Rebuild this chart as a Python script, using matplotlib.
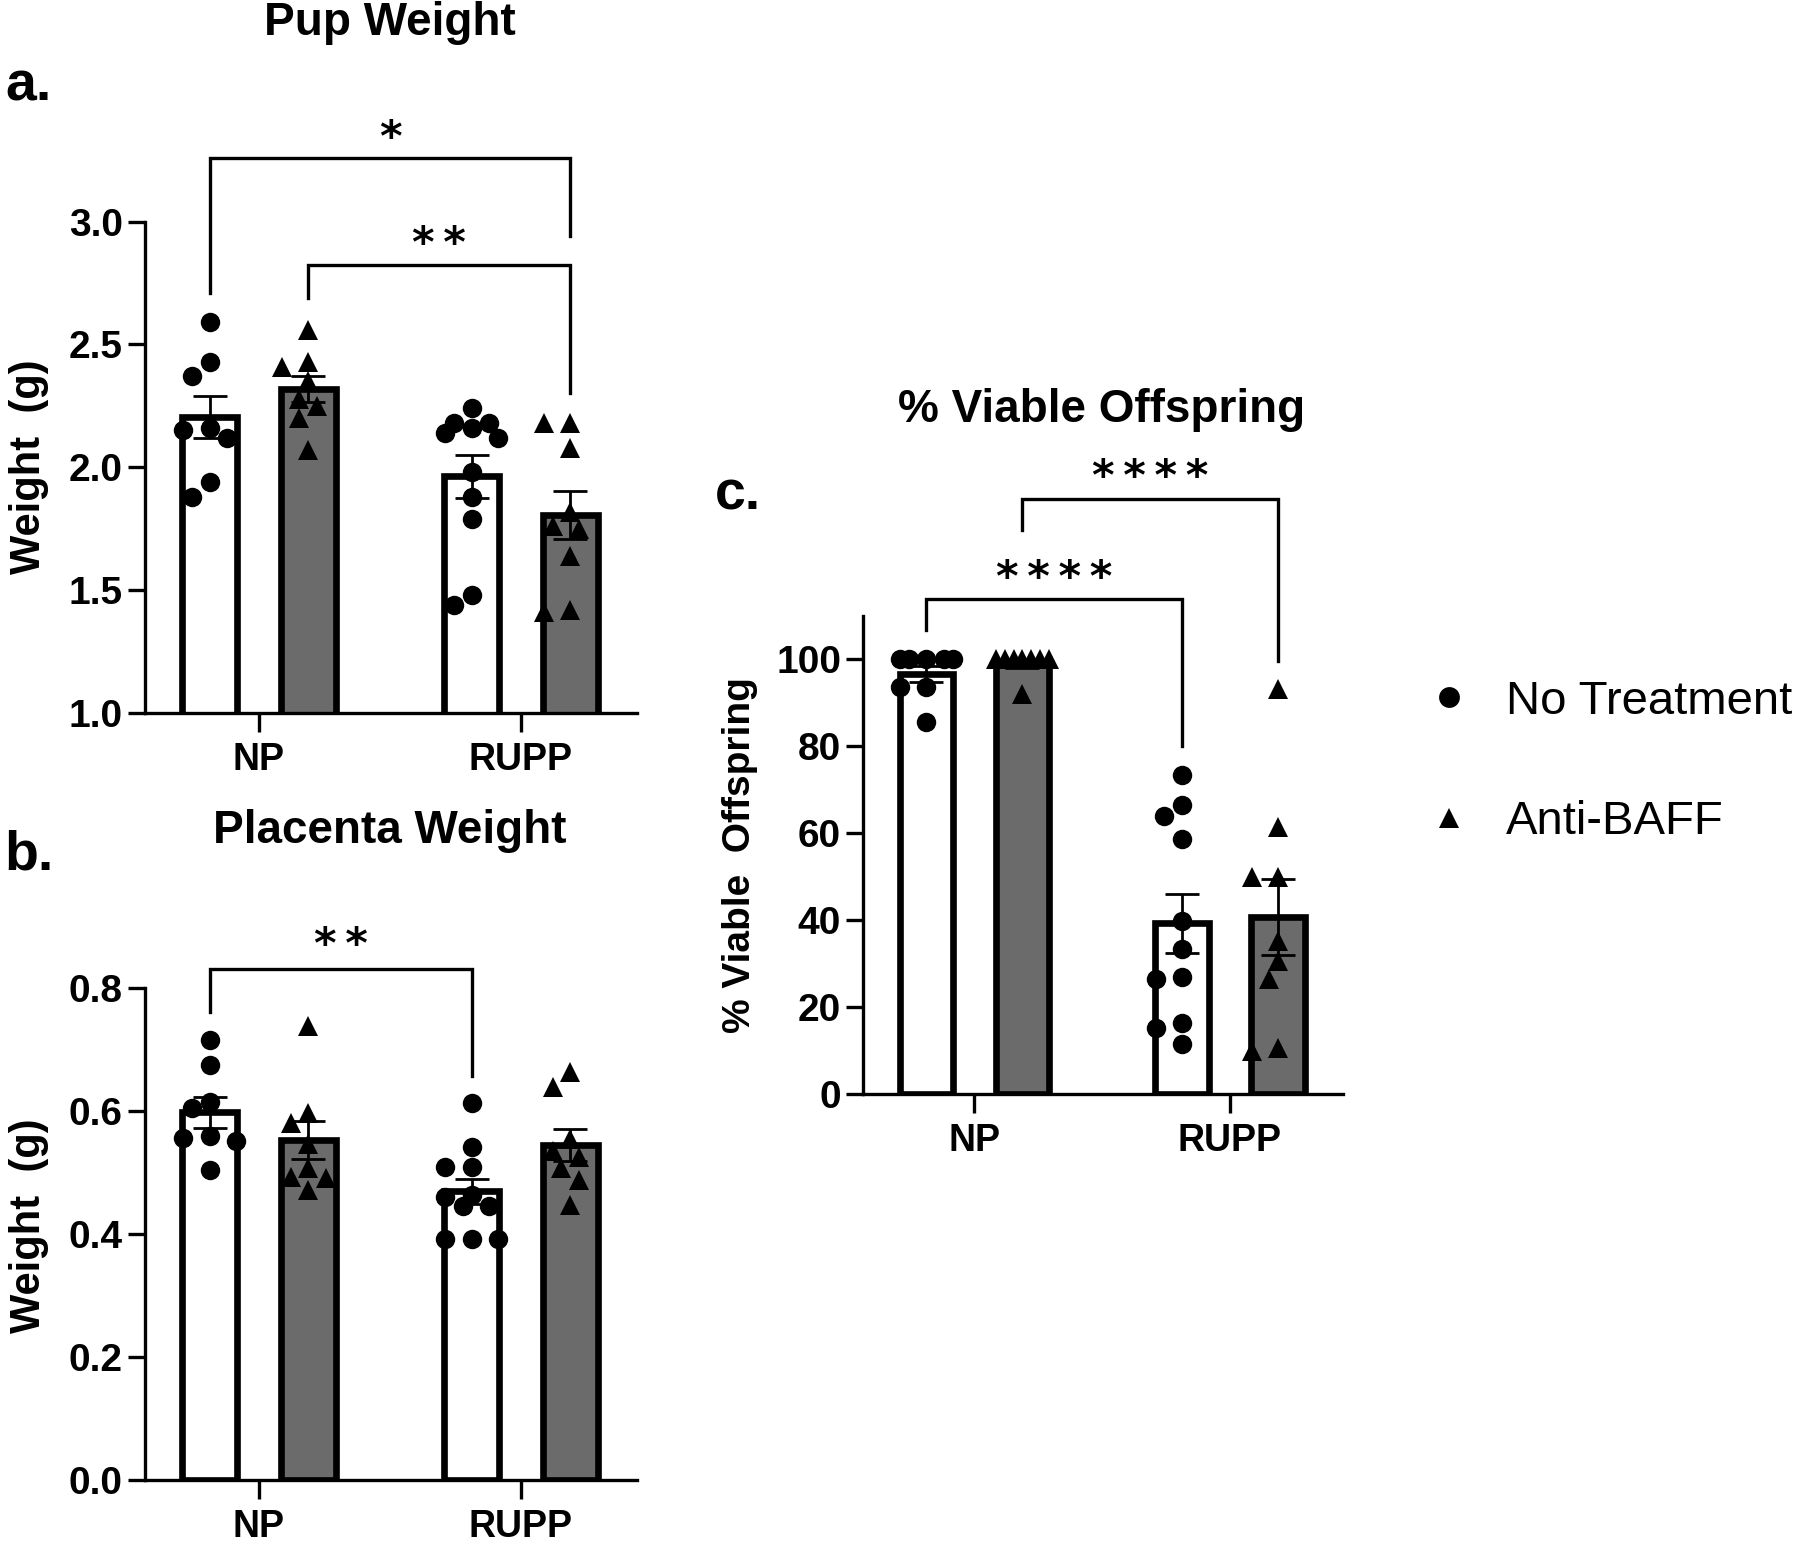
import numpy as np
import matplotlib
matplotlib.use("Agg")
import matplotlib.pyplot as plt
from matplotlib.lines import Line2D

plt.rcParams['font.family'] = ['Liberation Sans', 'DejaVu Sans']

# ---------------- data ----------------
groups = ["NP", "RUPP"]
series = ["No Treatment", "Anti-BAFF"]

pup_np_ctrl = [2.59, 2.43, 2.37, 2.16, 2.15, 2.12, 1.94, 1.88]
pup_np_baff = [2.56, 2.43, 2.41, 2.35, 2.28, 2.25, 2.20, 2.07]
pup_rupp_ctrl = [2.24, 2.18, 2.18, 2.16, 2.14, 2.12, 1.98, 1.88, 1.79, 1.48, 1.44]
pup_rupp_baff = [2.18, 2.18, 2.08, 1.82, 1.76, 1.75, 1.64, 1.42, 1.41]

pl_np_ctrl = [0.716, 0.675, 0.615, 0.605, 0.560, 0.557, 0.552, 0.504]
pl_np_baff = [0.739, 0.597, 0.581, 0.547, 0.507, 0.493, 0.491, 0.472]
pl_rupp_ctrl = [0.613, 0.542, 0.509, 0.509, 0.464, 0.461, 0.445, 0.445, 0.392, 0.392, 0.392]
pl_rupp_baff = [0.664, 0.640, 0.555, 0.536, 0.525, 0.507, 0.488, 0.448]

via_np_ctrl = [100, 100, 100, 100, 100, 93.5, 93.5, 85.5]
via_np_baff = [100, 100, 100, 100, 100, 100, 100, 92]
via_rupp_ctrl = [73.3, 66.5, 64.0, 58.7, 39.8, 33.3, 26.9, 26.4, 16.4, 15.1, 11.4]
via_rupp_baff = [93.2, 61.3, 49.8, 49.8, 35.2, 30.6, 26.4, 10.6, 9.8]

pup_ticks = [1.0, 1.5, 2.0, 2.5, 3.0]
pl_ticks = [0.0, 0.2, 0.4, 0.6, 0.8]
via_ticks = [0, 20, 40, 60, 80, 100]

# significance brackets: (group_i, series_i, group_j, series_j, top, left_bottom, right_bottom, label)
pup_sig = [(0, 0, 1, 1, 3.257, 2.708, 2.940, "*"),
           (0, 1, 1, 1, 2.823, 2.688, 2.301, "**")]
pl_sig = [(0, 0, 1, 0, 0.832, 0.762, 0.658, "**")]
via_sig = [(0, 0, 1, 0, 113.7, 106.7, 80.0, "****"),
           (0, 1, 1, 1, 136.7, 129.6, 99.5, "****")]

# ---------------- style ----------------
W, H, DPI = 18.0, 15.45, 100
BAR_W = 0.21
OFF = 0.188
FILL = ["white", "#6b6b6b"]
MARK = ["o", "^"]
MS = 14
LW_AX = 2.4
TXT_BOLD = dict(fontweight="bold")

fig = plt.figure(figsize=(W, H), dpi=DPI)


def px_frac(x0, y0, x1, y1):
    # full-pixel box (left, top, right, bottom) -> figure fractions
    return [x0 / 1800, 1 - y1 / 1545, (x1 - x0) / 1800, (y1 - y0) / 1545]


def swarm(ax, xc, vals, diam_px, max_px):
    vals = np.asarray(vals, float)
    tr = ax.transData
    pts = tr.transform(np.column_stack([np.full(len(vals), xc), vals]))
    x0 = pts[0, 0]
    ys = pts[:, 1]
    step = diam_px * 0.45
    cands = [0.0]
    k = 1
    while k * step <= max_px + 1e-6:
        cands += [-k * step, k * step]
        k += 1
    placed = []
    out = np.zeros(len(vals))
    for i in np.argsort(-vals, kind="stable"):
        best, bestc, bestd = None, 0.0, -1
        for c in cands:
            d = min([np.hypot(c - px, ys[i] - py) for px, py in placed], default=np.inf)
            if d >= 0.95 * diam_px:
                best = c
                break
            if d > bestd:
                bestd, bestc = d, c
        if best is None:
            best = bestc
        placed.append((best, ys[i]))
        out[i] = best
    xs = tr.inverted().transform(np.column_stack([x0 + out, ys]))[:, 0]
    return xs


def panel(rect, ylim, ticks, ticklabels, data, sig, star_dy=0.0):
    ax = fig.add_axes(rect)
    ax.set_xlim(-0.435, 1.443)
    ax.set_ylim(*ylim)
    for s in ["top", "right"]:
        ax.spines[s].set_visible(False)
    for s in ["left", "bottom"]:
        ax.spines[s].set_linewidth(LW_AX)
    ax.set_yticks(ticks)
    ax.set_yticklabels(ticklabels)
    ax.set_xticks(range(len(groups)))
    ax.set_xticklabels(groups)
    ax.tick_params(axis="y", length=12, width=LW_AX, labelsize=28, pad=4)
    ax.tick_params(axis="x", length=14, width=LW_AX, labelsize=27, pad=7)
    for lab in ax.get_xticklabels() + ax.get_yticklabels():
        lab.set_fontweight("bold")
    diam = MS / 72 * DPI
    xpos = {}
    for gi in range(len(groups)):
        for si in range(len(series)):
            vals = np.asarray(data[gi][si], float)
            x = gi + (2 * si - 1) * OFF
            xpos[(gi, si)] = x
            m = vals.mean()
            sem = vals.std(ddof=1) / np.sqrt(len(vals))
            ax.bar(x, m, BAR_W, color=FILL[si], edgecolor="black", linewidth=4.8, zorder=1)
            xs = swarm(ax, x, vals, diam, 27)
            ax.plot(xs, vals, linestyle="none", marker=MARK[si], color="black",
                    markersize=MS, markeredgewidth=0, zorder=3)
            ax.errorbar(x, m, yerr=sem, fmt="none", ecolor="black", elinewidth=2.0,
                        capsize=12, capthick=2.0, zorder=4)
    for (g1, s1, g2, s2, top, lb, rb, lab) in sig:
        x1, x2 = xpos[(g1, s1)], xpos[(g2, s2)]
        ax.plot([x1, x1, x2, x2], [lb, top, top, rb], color="black", lw=LW_AX,
                clip_on=False, solid_joinstyle="miter", zorder=5)
        ax.text((x1 + x2) / 2, top + star_dy, "\u2009".join(lab), ha="center", va="center",
                fontsize=31, family="DejaVu Sans", fontweight="bold", clip_on=False)
    return ax


# Panel a
ax_a = panel(px_frac(145, 221.6, 637, 713), (1.0, 3.0), pup_ticks,
             [f"{t:.1f}" for t in pup_ticks],
             [[pup_np_ctrl, pup_np_baff], [pup_rupp_ctrl, pup_rupp_baff]],
             pup_sig, star_dy=0.08)

# Panel b
ax_b = panel(px_frac(145, 988.4, 637, 1479.8), (0.0, 0.8), pl_ticks,
             [f"{t:.1f}" for t in pl_ticks],
             [[pl_np_ctrl, pl_np_baff], [pl_rupp_ctrl, pl_rupp_baff]],
             pl_sig, star_dy=0.037)

# Panel c
ax_c = panel(px_frac(863.3, 615.5, 1343, 1094), (0, 110), via_ticks,
             [str(t) for t in via_ticks],
             [[via_np_ctrl, via_np_baff], [via_rupp_ctrl, via_rupp_baff]],
             via_sig, star_dy=4.8)

# Titles, panel letters, y labels
fig.text(0.2167, 0.985, "Pup Weight", ha="center", va="center", fontsize=33, **TXT_BOLD)
fig.text(0.2167, 0.462, "Placenta Weight", ha="center", va="center", fontsize=33, **TXT_BOLD)
fig.text(0.612, 0.7346, "% Viable Offspring", ha="center", va="center", fontsize=33, **TXT_BOLD)

fig.text(0.016, 0.944, "a.", ha="center", va="center", fontsize=40, **TXT_BOLD)
fig.text(0.016, 0.4466, "b.", ha="center", va="center", fontsize=40, **TXT_BOLD)
fig.text(0.41, 0.679, "c.", ha="center", va="center", fontsize=40, **TXT_BOLD)

fig.text(0.016, 0.698, "Weight  (g)", ha="center", va="center", rotation=90, fontsize=30, **TXT_BOLD)
fig.text(0.016, 0.2065, "Weight  (g)", ha="center", va="center", rotation=90, fontsize=30, **TXT_BOLD)
fig.text(0.411, 0.4466, "% Viable  Offspring", ha="center", va="center", rotation=90, fontsize=28, **TXT_BOLD)

# Legend
handles = [Line2D([], [], linestyle="none", marker=MARK[i], color="black",
                  markersize=MS + 1, markeredgewidth=0) for i in range(len(series))]
fig.legend(handles, series, loc="upper left", bbox_to_anchor=(0.792, 0.560),
           frameon=False, fontsize=34, handlelength=1.0, handletextpad=0.7,
           labelspacing=1.62, borderpad=0, borderaxespad=0)

fig.savefig("out.png", dpi=DPI, facecolor="white")
